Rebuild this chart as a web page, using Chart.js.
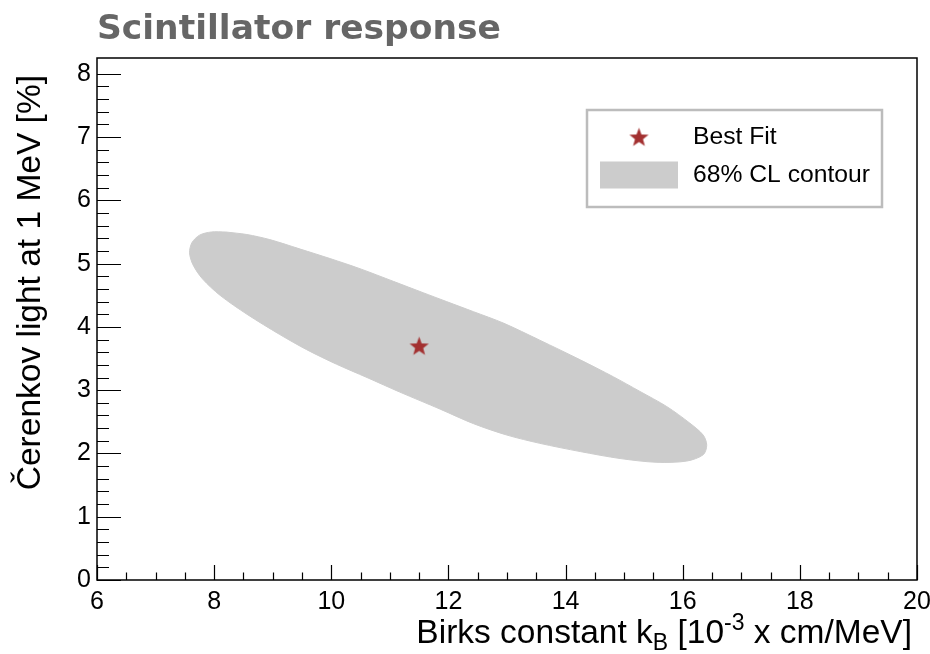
<!DOCTYPE html>
<html>
<head>
<meta charset="utf-8">
<title>Scintillator response</title>
<script src="https://cdn.jsdelivr.net/npm/chart.js@4.4.1/dist/chart.umd.min.js"></script>
<style>
  html, body { margin: 0; padding: 0; background: #ffffff; }
  #c { display: block; }
</style>
</head>
<body>
<canvas id="c" width="930" height="654"></canvas>
<script>
// ---- data ----
const chartTitle = 'Scintillator response';
const seriesNames = ['Best Fit', '68% CL contour'];

// best-fit point (kB, Cherenkov fraction)
const bestFitX = [11.5];
const bestFitY = [3.7];

// 68% CL contour, traced clockwise starting on the flat top edge
const contourX = [8.20, 8.56, 8.95, 9.47, 9.98, 10.49, 11.06, 11.57, 11.97, 12.43, 12.94, 13.56, 14.25, 14.82,
                  15.27, 15.73, 16.12, 16.35, 16.41, 16.35, 16.07, 15.56, 14.93, 14.25, 13.56, 13.00, 12.43,
                  11.86, 11.17, 10.61, 10.09, 9.58, 9.12, 8.56, 8.10, 7.80, 7.64, 7.58, 7.62, 7.75, 7.95, 8.20];
const contourY = [5.50, 5.46, 5.38, 5.23, 5.08, 4.92, 4.72, 4.54, 4.40, 4.24, 4.06, 3.79, 3.48, 3.21,
                  2.98, 2.74, 2.48, 2.29, 2.13, 1.98, 1.88, 1.86, 1.92, 2.03, 2.16, 2.29, 2.47,
                  2.70, 2.97, 3.20, 3.41, 3.64, 3.88, 4.20, 4.50, 4.76, 4.98, 5.17, 5.33, 5.45, 5.50, 5.50];

// axis ticks
const xTickLabels = [6, 8, 10, 12, 14, 16, 18, 20];
const yTickLabels = [0, 1, 2, 3, 4, 5, 6, 7, 8];

// ---- styling ----
const FONT = '"Liberation Sans", Arial, sans-serif';
const STAR_COLOR = '#a33131';
const FILL_COLOR = '#cccccc';

// filled five-point star used as the marker
function makeStar(size, color) {
  const cv = document.createElement('canvas');
  cv.width = size; cv.height = size;
  const g = cv.getContext('2d');
  const cx = size / 2, cy = size / 2 + size * 0.04;
  const R = size * 0.48, r = R * 0.42;
  g.beginPath();
  for (let i = 0; i < 10; i++) {
    const ang = -Math.PI / 2 + i * Math.PI / 5;
    const rad = i % 2 === 0 ? R : r;
    const px = cx + rad * Math.cos(ang), py = cy + rad * Math.sin(ang);
    i === 0 ? g.moveTo(px, py) : g.lineTo(px, py);
  }
  g.closePath();
  g.fillStyle = color;
  g.fill();
  return cv;
}
const starImg = makeStar(21, STAR_COLOR);

// frame, inward ticks, axis titles and the boxed legend
const rootStyle = {
  id: 'rootStyle',
  afterDatasetsDraw(chart, args, o) {
    const { ctx, chartArea: a, scales: { x, y } } = chart;
    ctx.save();

    // ticks
    ctx.strokeStyle = '#000';
    ctx.lineWidth = 1.2;
    ctx.beginPath();
    const nx = Math.round((x.max - x.min) / o.xMinor);
    for (let i = 0; i <= nx; i++) {
      const v = x.min + i * o.xMinor;
      const px = Math.round(x.getPixelForValue(v)) + 0.5;
      const major = Math.abs(v / o.xMajor - Math.round(v / o.xMajor)) < 1e-6;
      ctx.moveTo(px, a.bottom);
      ctx.lineTo(px, a.bottom - (major ? o.xMajorLen : o.xMinorLen));
    }
    const ny = Math.round((o.yLast - y.min) / o.yMinor);
    for (let i = 0; i <= ny; i++) {
      const v = y.min + i * o.yMinor;
      const py = Math.round(y.getPixelForValue(v)) + 0.5;
      const major = Math.abs(v / o.yMajor - Math.round(v / o.yMajor)) < 1e-6;
      ctx.moveTo(a.left, py);
      ctx.lineTo(a.left + (major ? o.yMajorLen : o.yMinorLen), py);
    }
    ctx.stroke();

    // frame
    ctx.lineWidth = 1.5;
    ctx.strokeRect(a.left, a.top, a.right - a.left, a.bottom - a.top);

    // x title: Birks constant k_B [10^-3 x cm/MeV]
    ctx.fillStyle = '#000';
    ctx.textBaseline = 'alphabetic';
    const big = o.titleSize, small = Math.round(o.titleSize * 0.7);
    const parts = [
      { t: 'Birks constant k', s: big, dy: 0 },
      { t: 'B', s: small, dy: big * 0.22 },
      { t: ' [10', s: big, dy: 0 },
      { t: '-3', s: small, dy: -big * 0.4 },
      { t: ' x cm/MeV]', s: big, dy: 0 }
    ];
    let total = 0;
    parts.forEach(p => { ctx.font = p.s + 'px ' + FONT; p.w = ctx.measureText(p.t).width; total += p.w; });
    let cx = a.right + o.xTitleDx - total;
    const by = a.bottom + o.xTitleDy;
    parts.forEach(p => { ctx.font = p.s + 'px ' + FONT; ctx.fillText(p.t, cx, by + p.dy); cx += p.w; });

    // y title
    ctx.save();
    ctx.translate(o.yTitleX, a.top + o.yTitleDy);
    ctx.rotate(-Math.PI / 2);
    ctx.font = big + 'px ' + FONT;
    ctx.textAlign = 'right';
    ctx.fillText('\u010Cerenkov light at 1 MeV [%]', 0, 0);
    ctx.restore();

    // legend box
    const L = o.legend;
    ctx.fillStyle = '#fff';
    ctx.fillRect(L.x, L.y, L.w, L.h);
    ctx.strokeStyle = '#bcbcbc';
    ctx.lineWidth = 2.5;
    ctx.strokeRect(L.x, L.y, L.w, L.h);
    const ds = chart.data.datasets;
    ctx.drawImage(starImg, L.symX - starImg.width / 2, L.row1 - starImg.height / 2);
    ctx.fillStyle = FILL_COLOR;
    ctx.fillRect(L.symX - L.boxW / 2, L.row2 - L.boxH / 2, L.boxW, L.boxH);
    ctx.fillStyle = '#000';
    ctx.font = L.size + 'px ' + FONT;
    ctx.textAlign = 'left';
    ctx.textBaseline = 'middle';
    ctx.fillText(ds[0].label, L.textX, L.row1);
    ctx.fillText(ds[1].label, L.textX, L.row2);

    ctx.restore();
  }
};

const contourPts = contourX.map((v, i) => ({ x: v, y: contourY[i] }));
const bestPts = bestFitX.map((v, i) => ({ x: v, y: bestFitY[i] }));

new Chart(document.getElementById('c'), {
  type: 'scatter',
  data: {
    datasets: [
      {
        label: seriesNames[0],
        data: bestPts,
        pointStyle: starImg,
        pointRadius: 10,
        showLine: false
      },
      {
        label: seriesNames[1],
        data: contourPts,
        showLine: true,
        fill: 'shape',
        tension: 0.3,
        pointRadius: 0,
        borderWidth: 1,
        borderColor: FILL_COLOR,
        backgroundColor: FILL_COLOR
      }
    ]
  },
  options: {
    responsive: false,
    devicePixelRatio: 1,
    animation: false,
    events: [],
    layout: { padding: { left: 0, right: 0, top: 0, bottom: 0 } },
    scales: {
      x: {
        type: 'linear',
        min: 6,
        max: 20,
        grid: { display: false, drawTicks: false },
        border: { display: false },
        afterBuildTicks: s => { s.ticks = xTickLabels.map(v => ({ value: v })); },
        afterFit: s => { s.height = 74; s.paddingLeft = 0; s.paddingRight = 13; },
        ticks: { color: '#000', padding: 7, maxRotation: 0, font: { family: FONT, size: 25 } }
      },
      y: {
        type: 'linear',
        min: 0,
        max: 8.25,
        grid: { display: false, drawTicks: false },
        border: { display: false },
        afterBuildTicks: s => { s.ticks = yTickLabels.map(v => ({ value: v })); },
        afterFit: s => { s.width = 97; s.paddingTop = 0; s.paddingBottom = 0; },
        ticks: { color: '#000', padding: 6, font: { family: FONT, size: 25 } }
      }
    },
    plugins: {
      legend: { display: false },
      tooltip: { enabled: false },
      title: {
        display: true,
        text: chartTitle,
        align: 'start',
        fullSize: false,
        color: '#666666',
        font: { family: '"DejaVu Sans", sans-serif', weight: 'bold', size: 34.5, lineHeight: 1.2 },
        padding: { top: 9, bottom: 7.6 }
      },
      rootStyle: {
        xMajor: 2, xMinor: 0.5, xMajorLen: 15, xMinorLen: 7.5,
        yMajor: 1, yMinor: 0.2, yMajorLen: 24, yMinorLen: 12, yLast: 8,
        titleSize: 33.5,
        xTitleDx: -5, xTitleDy: 63,
        yTitleX: 40, yTitleDy: 17,
        legend: { x: 587, y: 110, w: 295, h: 97, symX: 639, row1: 137, row2: 175,
                  boxW: 78, boxH: 27, textX: 693, size: 24.7 }
      }
    }
  },
  plugins: [rootStyle]
});
</script>
</body>
</html>
